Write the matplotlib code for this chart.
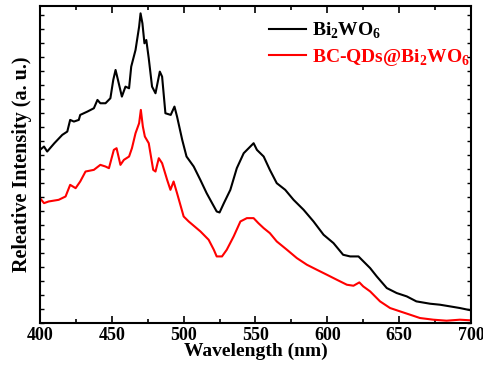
import matplotlib
matplotlib.use("Agg")
import matplotlib.pyplot as plt
from matplotlib.ticker import MultipleLocator

plt.rcParams['font.family'] = ['Liberation Serif', 'DejaVu Serif']
plt.rcParams['font.weight'] = 'bold'
plt.rcParams['mathtext.fontset'] = 'custom'
plt.rcParams['mathtext.rm'] = 'Liberation Serif:bold'
plt.rcParams['mathtext.bf'] = 'Liberation Serif:bold'

# Bi2WO6 (black)
wl_black = [400, 402.8, 405, 410, 415.5, 419, 421, 423.6, 427, 428, 433, 437.5, 440, 442,
            445.6, 449, 451, 452.6, 454, 457, 459.5, 462, 463.5, 466.5, 469, 470, 471.3,
            472.7, 474, 475.7, 478, 480.4, 483.4, 485, 487.3, 491, 493.6, 495.4, 499, 502,
            507, 511.6, 516, 519.8, 523, 525, 528, 532.5, 537, 541.8, 546.4, 548.7, 551,
            555.7, 560, 564.8, 570.7, 576.5, 583.5, 590.4, 597.4, 604.3, 611, 615.9, 621.7,
            624, 629.8, 634.4, 641.4, 648.3, 655.3, 662, 671.5, 678.4, 685.4, 692.3, 700]
int_black = [520, 530, 515, 540, 565, 575, 610, 605, 610, 625, 635, 645, 670, 660,
             660, 675, 730, 760, 735, 680, 710, 705, 770, 820, 890, 930, 900,
             840, 850, 795, 710, 690, 755, 740, 630, 625, 650, 620, 550, 500,
             470, 430, 390, 360, 335, 332, 360, 400, 465, 510, 530, 540, 520,
             500, 460, 420, 400, 370, 340, 305, 265, 240, 205, 200, 200,
             190, 165, 140, 105, 90, 80, 65, 58, 55, 50, 45, 38]

# BC-QDs@Bi2WO6 (red)
wl_red = [400, 402.8, 406, 413, 417.8, 421, 424.8, 428, 431.7, 437.5, 442, 445.6, 448,
          451.4, 453.3, 456, 458.4, 462, 464, 466.5, 469, 470.2, 471.6, 473, 475.7, 478.8,
          480.4, 482.7, 485, 488.5, 490.8, 493, 495.4, 500, 503.5, 511.7, 517.4, 521, 523,
          526.7, 530, 534.8, 539.5, 544, 548.7, 552, 555.7, 560, 564.8, 571.9, 578.8,
          585.8, 592.7, 599.7, 606.6, 613.6, 618.2, 622.3, 625, 629.8, 636.7, 643.7,
          650.6, 657.6, 664.5, 673.8, 683, 692.3, 700]
int_red = [375, 360, 365, 370, 380, 415, 405, 425, 455, 460, 475, 470, 465,
           520, 525, 475, 490, 500, 525, 570, 600, 640, 590, 560, 540, 460,
           455, 495, 480, 430, 400, 425, 390, 320, 305, 275, 250, 220, 200,
           200, 220, 260, 305, 315, 315, 300, 285, 270, 245, 220, 195,
           175, 160, 145, 130, 115, 112, 122, 110, 95, 65, 45,
           35, 25, 15, 10, 7, 10, 8]

fig = plt.figure(figsize=(4.83, 3.65), dpi=100)
ax = fig.add_axes([0.0828, 0.115, 0.8923, 0.8685])

ax.plot(wl_black, int_black, color='black', lw=1.5, label=r'Bi$_\mathbf{2}$WO$_\mathbf{6}$')
ax.plot(wl_red, int_red, color='#ff0000', lw=1.5, label=r'BC-QDs@Bi$_\mathbf{2}$WO$_\mathbf{6}$')

ax.set_xlim(400, 700)
ax.set_ylim(0, 952)
ax.xaxis.set_major_locator(MultipleLocator(50))
ax.xaxis.set_minor_locator(MultipleLocator(25))
ax.yaxis.set_major_locator(MultipleLocator(42))
ax.tick_params(axis='x', which='major', direction='in', length=5, width=1.2,
               top=True, bottom=True, labelsize=13, pad=3)
ax.tick_params(axis='x', which='minor', direction='in', length=3, width=1.2,
               top=True, bottom=True)
ax.tick_params(axis='y', which='major', direction='in', length=3, width=1.0,
               left=True, right=True, labelleft=False)
for lab in ax.get_xticklabels():
    lab.set_fontweight('bold')
for s in ax.spines.values():
    s.set_linewidth(1.5)

ax.set_xlabel('Wavelength (nm)', fontsize=14, fontweight='bold', labelpad=-1)
ax.set_ylabel('Releative Intensity (a. u.)', fontsize=14.5, fontweight='bold', labelpad=6)

leg = ax.legend(loc='upper right', frameon=False, fontsize=14, handlelength=1.9,
                handletextpad=0.3, labelspacing=0.3, borderaxespad=0.2,
                bbox_to_anchor=(1.025, 0.99))
for t, c in zip(leg.get_texts(), ['black', '#ff0000']):
    t.set_color(c)
    t.set_fontweight('bold')

fig.savefig('out.png', dpi=100)
